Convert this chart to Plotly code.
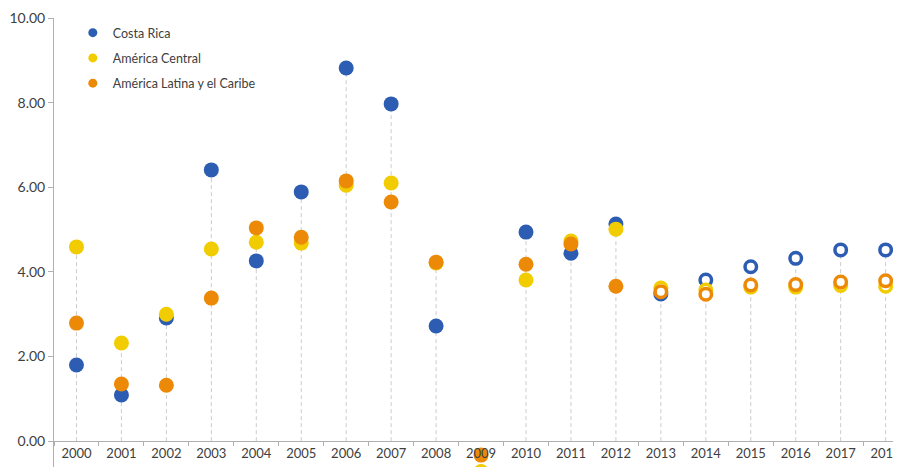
import plotly.graph_objects as go

# Annual growth (%)
years = [str(y) for y in range(2000, 2019)]
first_projection = '2013'

costa_rica = [1.80, 1.09, 2.91, 6.41, 4.26, 5.89, 8.82, 7.97, 2.72, -1.00,
              4.94, 4.44, 5.13, 3.48, 3.81, 4.12, 4.32, 4.52, 4.52]
america_central = [4.59, 2.32, 3.00, 4.54, 4.70, 4.68, 6.05, 6.10, 4.21, -0.72,
                   3.81, 4.73, 5.01, 3.62, 3.57, 3.64, 3.64, 3.68, 3.66]
america_latina = [2.79, 1.35, 1.32, 3.38, 5.04, 4.82, 6.15, 5.65, 4.23, -0.33,
                  4.18, 4.66, 3.66, 3.53, 3.47, 3.69, 3.70, 3.76, 3.79]

series = [
  ('Costa Rica', costa_rica, '#2d5db2'),
  ('América Central', america_central, '#f0cc00'),
  ('América Latina y el Caribe', america_latina, '#ec8a07'),
]

FONT = 'Lato'
TEXT = '#404040'
AXIS = '#b0b0b0'

fig = go.Figure()

# dashed drop lines from 0 up to the highest value of each year
drop_x, drop_y = [], []
for i, yr in enumerate(years):
  top = max(0, max(s[1][i] for s in series))
  drop_x += [yr, yr, None]
  drop_y += [0, top, None]

fig.add_trace(go.Scatter(
  x = drop_x, y = drop_y, mode = 'lines',
  line = dict(color = '#cccccc', width = 1, dash = '4px,3px'),
  hoverinfo = 'skip', showlegend = False
))

split = years.index(first_projection)

for k, (name, vals, color) in enumerate(series):
  n = len(vals)
  fig.add_trace(go.Scatter(
    x = years, y = vals, mode = 'markers', name = name,
    cliponaxis = False, showlegend = False,
    marker = dict(
      opacity = 1,
      size = [15] * split + [11.5] * (n - split),
      color = [color] * split + ['white'] * (n - split),
      line = dict(color = color, width = [0] * split + [3.5] * (n - split)),
    )
  ))
  # small legend swatch
  fig.add_trace(go.Scatter(
    x = [None], y = [None], mode = 'markers', name = name,
    legendgroup = 'g%d' % k,
    marker = dict(size = 9, color = color)
  ))

# title sits mostly above the visible area, as in the source
fig.add_annotation(
  text = 'Costa Rica, América Central y América Latina: tasa de crecimiento del PIB (en porcentajes)',
  xref = 'paper', yref = 'paper', x = 0.5, y = 1.0, yanchor = 'bottom',
  yshift = 8, showarrow = False,
  font = dict(family = FONT, size = 15, color = '#2d5db2')
)

ymin = -0.80
fig.update_layout(
  width = 901, height = 467,
  margin = dict(l = 46, r = 0, t = 10, b = 0),
  paper_bgcolor = 'white', plot_bgcolor = 'white',
  font = dict(family = FONT, size = 13, color = TEXT),
  showlegend = True,
  legend = dict(
    x = 0.022, y = 1.0, xanchor = 'left', yanchor = 'top',
    font = dict(family = FONT, size = 12.5, color = TEXT),
    itemwidth = 30, tracegroupgap = 6, bgcolor = 'rgba(0,0,0,0)'
  ),
  xaxis = dict(
    type = 'category', range = [-0.5, 18.52], automargin = False,
    anchor = 'free', position = -ymin / (10 - ymin),
    showline = True, linecolor = AXIS, linewidth = 1,
    ticks = 'outside', tickson = 'boundaries', ticklen = 4, tickcolor = AXIS,
    showgrid = False, zeroline = False, fixedrange = True,
    tickfont = dict(size = 13, color = TEXT)
  ),
  yaxis = dict(
    range = [ymin, 10], tickvals = [0, 2, 4, 6, 8, 10], tickformat = '.2f',
    automargin = False,
    showline = True, linecolor = AXIS, linewidth = 1,
    ticks = 'outside', ticklen = 5, tickcolor = AXIS,
    showgrid = False, zeroline = False,
    tickfont = dict(size = 14, color = TEXT)
  )
)

fig.write_html('out.html')
